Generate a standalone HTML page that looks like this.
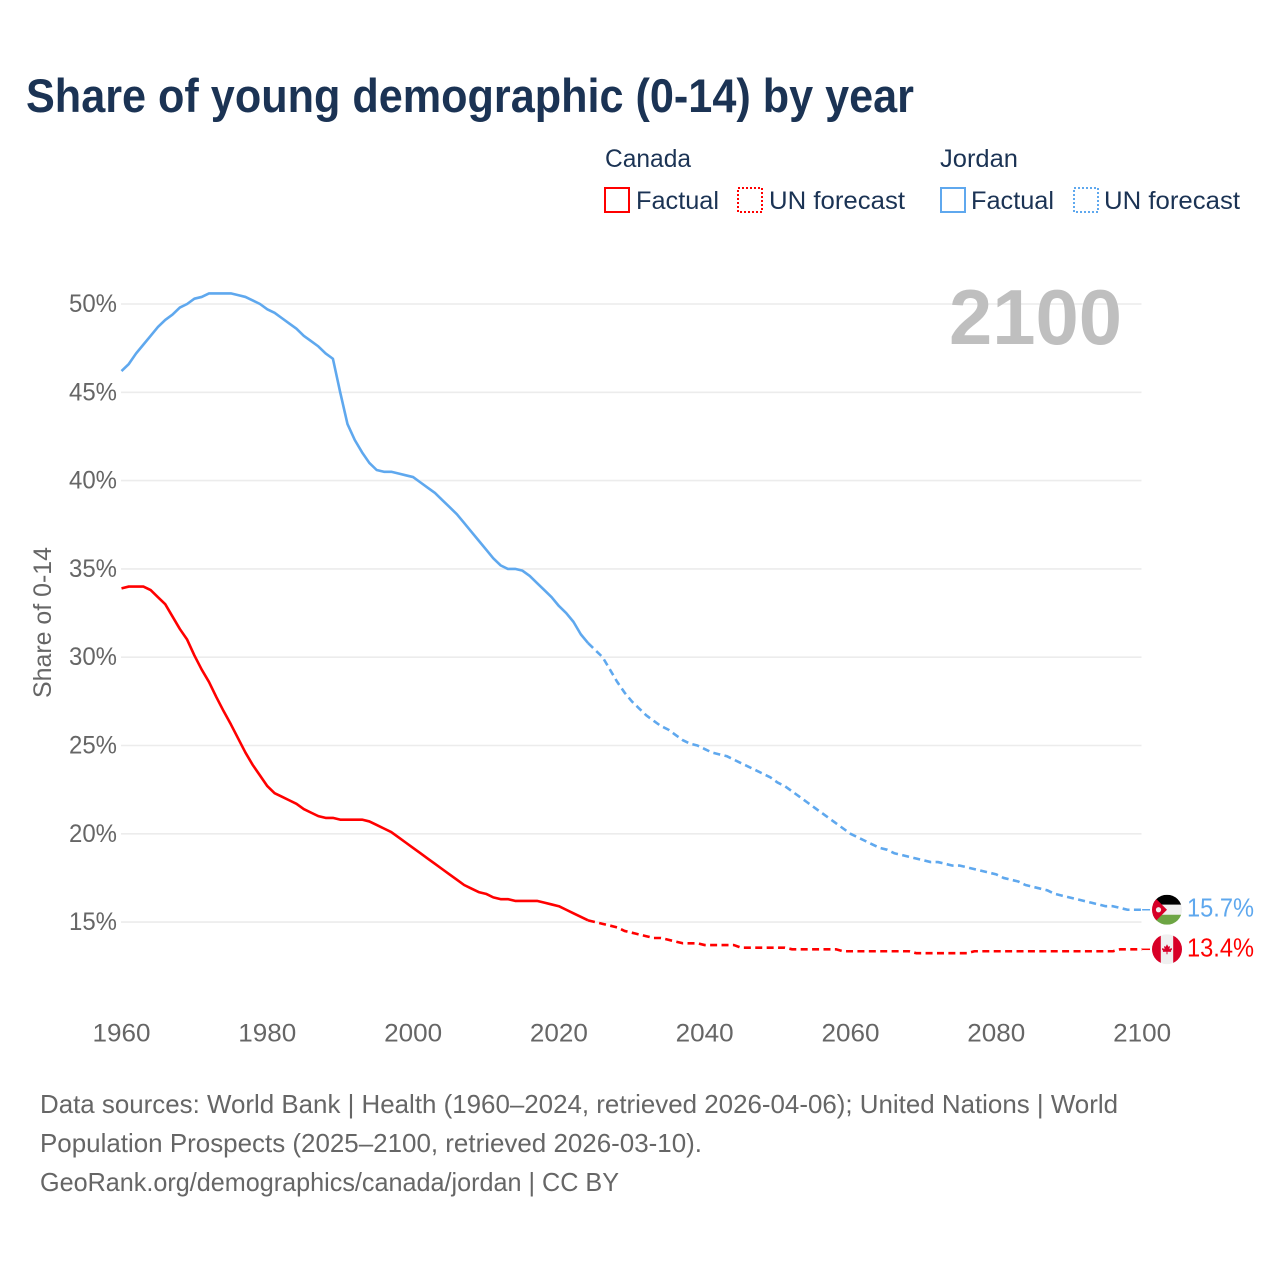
<!DOCTYPE html>
<html lang="en">
<head>
<meta charset="utf-8">
<title>Share of young demographic (0-14) by year</title>
<style>
html,body{margin:0;padding:0;background:#fff;}
svg{display:block;font-family:"Liberation Sans",sans-serif;}
.tick{font-size:25px;fill:#666;}
.legend{font-size:25px;fill:#1b3354;}
.foot{font-size:26px;fill:#666;}
</style>
</head>
<body>
<svg id="chart" width="1280" height="1280" viewBox="0 0 1280 1280" xmlns="http://www.w3.org/2000/svg">
  <rect x="0" y="0" width="1280" height="1280" fill="#fff"/>
  <text x="26" y="112" font-size="47" font-weight="700" fill="#1b3354" textLength="888" lengthAdjust="spacingAndGlyphs">Share of young demographic (0-14) by year</text>

  <g>
    <text class="legend" x="605" y="167" textLength="86" lengthAdjust="spacingAndGlyphs">Canada</text>
    <text class="legend" x="940" y="167" textLength="78" lengthAdjust="spacingAndGlyphs">Jordan</text>
    <rect x="605" y="188" width="24" height="24" fill="none" stroke="#ff0000" stroke-width="2"/>
    <text class="legend" x="636" y="209" textLength="83" lengthAdjust="spacingAndGlyphs">Factual</text>
    <rect x="738" y="188" width="24" height="24" fill="none" stroke="#ff0000" stroke-width="2" stroke-dasharray="2,2"/>
    <text class="legend" x="769" y="209" textLength="136" lengthAdjust="spacingAndGlyphs">UN forecast</text>
    <rect x="941" y="188" width="24" height="24" fill="none" stroke="#5fa8ee" stroke-width="2"/>
    <text class="legend" x="971" y="209" textLength="83" lengthAdjust="spacingAndGlyphs">Factual</text>
    <rect x="1074" y="188" width="24" height="24" fill="none" stroke="#5fa8ee" stroke-width="2" stroke-dasharray="2,2"/>
    <text class="legend" x="1104" y="209" textLength="136" lengthAdjust="spacingAndGlyphs">UN forecast</text>
  </g>

  <g id="grid"></g>
  <g id="yticks"></g>
  <g id="xticks"></g>

  <text transform="translate(51,698) rotate(-90)" x="0" y="0" font-size="25" fill="#666" textLength="151" lengthAdjust="spacingAndGlyphs">Share of 0-14</text>

  <text x="949" y="344" font-size="78" font-weight="700" fill="#bfbfbf" textLength="173" lengthAdjust="spacingAndGlyphs">2100</text>

  <g id="series"></g>

  <defs>
    <clipPath id="clip-jordan"><circle id="clip-jordan-circle" cx="1167" cy="908.5" r="15"/></clipPath>
    <clipPath id="clip-canada"><circle id="clip-canada-circle" cx="1167" cy="949.5" r="15"/></clipPath>
  </defs>

  <g id="flag-jordan" clip-path="url(#clip-jordan)">
    <g id="flag-jordan-art">
      <rect x="1152" y="-15" width="30" height="10" fill="#000"/>
      <rect x="1152" y="-5" width="30" height="10" fill="#f0f0f0"/>
      <rect x="1152" y="5" width="30" height="10" fill="#6da544"/>
      <polygon points="1152,-15 1167,0 1152,15" fill="#d80027"/>
      <circle cx="1158.5" cy="0" r="2.6" fill="#f0f0f0"/>
    </g>
  </g>
  <g id="flag-canada" clip-path="url(#clip-canada)">
    <g id="flag-canada-art">
      <rect x="1152" y="-15" width="30" height="30" fill="#f0f0f0"/>
      <rect x="1152" y="-15" width="8.8" height="30" fill="#d80027"/>
      <rect x="1173.2" y="-15" width="8.8" height="30" fill="#d80027"/>
      <polygon points="1167,-5 1168.3,-2.6 1170,-3.2 1169.4,0 1171.6,-1.4 1172,0.2 1170.8,1.6 1171.2,2.6 1167.5,2.4 1167.5,5 1166.5,5 1166.5,2.4 1162.8,2.6 1163.2,1.6 1162,0.2 1162.4,-1.4 1164.6,0 1164,-3.2 1165.7,-2.6" fill="#d80027"/>
    </g>
  </g>

  <text id="end-label-jordan" x="1187" font-size="26" fill="#5fa8ee" textLength="67" lengthAdjust="spacingAndGlyphs"></text>
  <text id="end-label-canada" x="1187" font-size="26" fill="#ff0000" textLength="67" lengthAdjust="spacingAndGlyphs"></text>

  <g>
    <text class="foot" x="40" y="1113" textLength="1078" lengthAdjust="spacingAndGlyphs">Data sources: World Bank | Health (1960–2024, retrieved 2026-04-06); United Nations | World</text>
    <text class="foot" x="40" y="1152" textLength="662" lengthAdjust="spacingAndGlyphs">Population Prospects (2025–2100, retrieved 2026-03-10).</text>
    <text class="foot" x="40" y="1191" textLength="579" lengthAdjust="spacingAndGlyphs">GeoRank.org/demographics/canada/jordan | CC BY</text>
  </g>
</svg>

<script>
var factualStartYear = 1960;
var forecastStartYear = 2024;
var xTickYears = [1960, 1980, 2000, 2020, 2040, 2060, 2080, 2100];
var yTickValues = [50, 45, 40, 35, 30, 25, 20, 15];
var endValueLabels = { canada: "13.4%", jordan: "15.7%" };

var jordanFactual = [
  46.2,46.6,47.2,47.7,48.2,48.7,49.1,49.4,49.8,50.0,
  50.3,50.4,50.6,50.6,50.6,50.6,50.5,50.4,50.2,50.0,
  49.7,49.5,49.2,48.9,48.6,48.2,47.9,47.6,47.2,46.9,
  45.0,43.2,42.3,41.6,41.0,40.6,40.5,40.5,40.4,40.3,
  40.2,39.9,39.6,39.3,38.9,38.5,38.1,37.6,37.1,36.6,
  36.1,35.6,35.2,35.0,35.0,34.9,34.6,34.2,33.8,33.4,
  32.9,32.5,32.0,31.3,30.8
];
var jordanForecast = [
  30.8,30.4,30.0,29.3,28.6,28.0,27.5,27.1,26.7,26.4,26.1,25.9,25.6,25.3,25.1,25.0,
  24.8,24.6,24.5,24.4,24.2,24.0,23.8,23.6,23.4,23.2,
  22.9,22.7,22.4,22.1,21.8,21.5,21.2,20.9,20.6,20.3,
  20.0,19.8,19.6,19.4,19.2,19.1,18.9,18.8,18.7,18.6,
  18.5,18.4,18.4,18.3,18.2,18.2,18.1,18.0,17.9,17.8,
  17.7,17.5,17.4,17.3,17.1,17.0,16.9,16.8,16.6,16.5,
  16.4,16.3,16.2,16.1,16.0,15.9,15.9,15.8,15.7,15.7,15.7
];
var canadaFactual = [
  33.9,34.0,34.0,34.0,33.8,33.4,33.0,32.3,31.6,31.0,
  30.1,29.3,28.6,27.75,26.95,26.2,25.4,24.6,23.9,23.3,
  22.7,22.3,22.1,21.9,21.7,21.4,21.2,21.0,20.9,20.9,
  20.8,20.8,20.8,20.8,20.7,20.5,20.3,20.1,19.8,19.5,
  19.2,18.9,18.6,18.3,18.0,17.7,17.4,17.1,16.9,16.7,
  16.6,16.4,16.3,16.3,16.2,16.2,16.2,16.2,16.1,16.0,
  15.9,15.7,15.5,15.3,15.1
];
var canadaForecast = [
  15.1,15.0,14.9,14.8,14.7,14.5,14.4,14.3,14.2,14.1,14.1,14.0,13.9,13.8,13.8,13.8,
  13.7,13.7,13.7,13.7,13.7,
  13.55,13.55,13.55,13.55,13.55,13.55,13.55,
  13.46,13.46,13.46,13.46,13.46,13.46,13.46,
  13.35,13.35,13.35,13.35,13.35,13.35,13.35,13.35,13.35,13.35,
  13.24,13.24,13.24,13.24,13.24,13.24,13.24,13.24,
  13.35,13.35,13.35,13.35,13.35,13.35,13.35,13.35,13.35,13.35,
  13.35,13.35,13.35,13.35,13.35,13.35,13.35,13.35,13.35,13.35,
  13.46,13.46,13.46,13.46
];

var NS = "http://www.w3.org/2000/svg";
var CANADA_COLOR = "#ff0000";
var JORDAN_COLOR = "#5fa8ee";

function xScale(year) { return 121.5 + (year - 1960) * (1020.6 / 140); }
function yScale(value) { return 304 + (50 - value) * 17.66; }

function pointsFor(values, startYear) {
  var out = [];
  for (var i = 0; i < values.length; i++) {
    out.push(xScale(startYear + i).toFixed(2) + "," + yScale(values[i]).toFixed(2));
  }
  return out.join(" ");
}

function drawLine(values, startYear, color, dash, name) {
  var el = document.createElementNS(NS, "polyline");
  
  
  el.setAttribute("points", pointsFor(values, startYear));
  el.setAttribute("fill", "none");
  el.setAttribute("stroke", color);
  el.setAttribute("stroke-width", "2.6");
  el.setAttribute("stroke-linejoin", "round");
  if (dash) el.setAttribute("stroke-dasharray", dash);
  document.getElementById("series").appendChild(el);
}

function drawConnector(value, color, name) {
  var el = document.createElementNS(NS, "line");
  
  
  el.setAttribute("x1", xScale(2100));
  el.setAttribute("x2", 1150);
  el.setAttribute("y1", yScale(value));
  el.setAttribute("y2", yScale(value));
  el.setAttribute("stroke", color);
  el.setAttribute("stroke-width", "1.5");
  document.getElementById("series").appendChild(el);
}

yTickValues.forEach(function (v) {
  var line = document.createElementNS(NS, "line");
  
  
  line.setAttribute("x1", 121);
  line.setAttribute("x2", 1141.5);
  line.setAttribute("y1", yScale(v));
  line.setAttribute("y2", yScale(v));
  line.setAttribute("stroke", "#ececec");
  line.setAttribute("stroke-width", "1.6");
  document.getElementById("grid").appendChild(line);

  var label = document.createElementNS(NS, "text");
  
  
  label.setAttribute("class", "tick");
  label.setAttribute("x", 69);
  label.setAttribute("y", yScale(v) + 8);
  label.setAttribute("textLength", 48);
  label.setAttribute("lengthAdjust", "spacingAndGlyphs");
  label.textContent = v + "%";
  document.getElementById("yticks").appendChild(label);
});

xTickYears.forEach(function (yr) {
  var label = document.createElementNS(NS, "text");
  
  
  label.setAttribute("class", "tick");
  label.setAttribute("x", xScale(yr) - 29);
  label.setAttribute("y", 1041.5);
  label.setAttribute("textLength", 58);
  label.setAttribute("lengthAdjust", "spacingAndGlyphs");
  label.textContent = String(yr);
  document.getElementById("xticks").appendChild(label);
});

drawLine(jordanFactual, factualStartYear, JORDAN_COLOR, null, "jordan-factual-line");
drawLine(jordanForecast, forecastStartYear, JORDAN_COLOR, "7,4.4", "jordan-forecast-line");
drawLine(canadaFactual, factualStartYear, CANADA_COLOR, null, "canada-factual-line");
drawLine(canadaForecast, forecastStartYear, CANADA_COLOR, "7,4.4", "canada-forecast-line");

var jordanEnd = jordanForecast[jordanForecast.length - 1];
var canadaEnd = canadaForecast[canadaForecast.length - 1];
drawConnector(jordanEnd, JORDAN_COLOR, "jordan-flag-connector");
drawConnector(canadaEnd, CANADA_COLOR, "canada-flag-connector");

function placeEnd(country, value) {
  var cy = yScale(value);
  document.getElementById("clip-" + country + "-circle").setAttribute("cy", cy);
  var label = document.getElementById("end-label-" + country);
  label.setAttribute("y", cy + 7);
  label.textContent = endValueLabels[country];
  return cy;
}
var jordanCy = placeEnd("jordan", jordanEnd);
document.getElementById("flag-jordan-art").setAttribute("transform", "translate(0," + jordanCy + ")");
var canadaCy = placeEnd("canada", canadaEnd);
document.getElementById("flag-canada-art").setAttribute("transform", "translate(0," + canadaCy + ")");
</script>
</body>
</html>
